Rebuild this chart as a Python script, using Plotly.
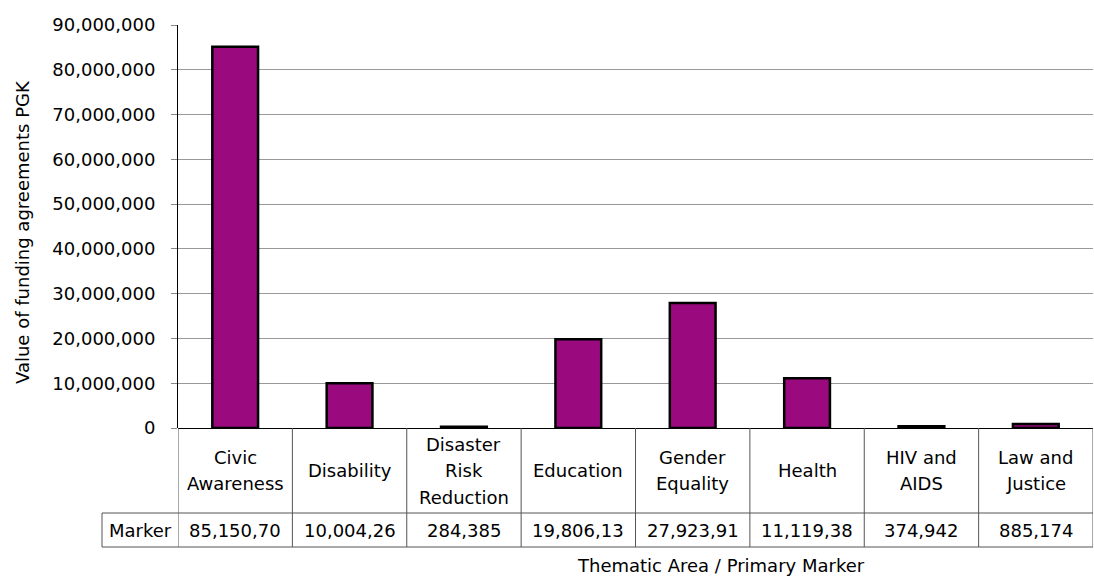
import plotly.graph_objects as go

categories = ["Civic<br>Awareness", "Disability", "Disaster<br>Risk<br>Reduction", "Education",
              "Gender<br>Equality", "Health", "HIV and<br>AIDS", "Law and<br>Justice"]
values = [85150700, 10004260, 284385, 19806130, 27923910, 11119380, 374942, 885174]
marker_labels = ["85,150,70", "10,004,26", "284,385", "19,806,13", "27,923,91",
                 "11,119,38", "374,942", "885,174"]
series_name = "Marker"
y_ticks = list(range(0, 90000001, 10000000))
y_title = "Value of funding agreements PGK"
x_title = "Thematic Area / Primary Marker"

W, H = 1094, 577
L, R, T, B = 178, 1, 25, 149
plot_h = H - T - B
plot_w = W - L - R

def py(px):  # pixel y -> paper y
    return (H - B - px) / plot_h

def pxp(px):  # pixel x -> paper x
    return (px - L) / plot_w

FONT = "DejaVu Sans"
TXT = dict(family=FONT, size=18, color="#000")
n = len(categories)
xs = list(range(n))

fig = go.Figure()
fig.add_trace(go.Bar(
    x=xs, y=values, width=0.4, name=series_name,
    marker=dict(color="#9A0A7E", line=dict(color="#000000", width=2.5)),
    showlegend=False,
))

shapes = []
line_style = dict(color="#555555", width=1)
row1_bottom = py(513)
row2_bottom = py(547)
shapes.append(dict(type="line", xref="paper", yref="paper", x0=pxp(102), x1=1, y0=row1_bottom, y1=row1_bottom, line=line_style))
shapes.append(dict(type="line", xref="paper", yref="paper", x0=pxp(102), x1=1, y0=row2_bottom, y1=row2_bottom, line=line_style))
for i in range(n + 1):
    shapes.append(dict(type="line", xref="x", yref="paper", x0=i - 0.5, x1=i - 0.5, y0=0, y1=row2_bottom, line=line_style))
shapes.append(dict(type="line", xref="paper", yref="paper", x0=pxp(102), x1=pxp(102), y0=row1_bottom, y1=row2_bottom, line=line_style))

annotations = []
LINE_GAP = 26.5
for i, c in enumerate(categories):
    lines = c.split("<br>")
    k = len(lines)
    for j, ln in enumerate(lines):
        ypx = 470.5 + (j - (k - 1) / 2) * LINE_GAP
        annotations.append(dict(x=i, y=py(ypx), xref="x", yref="paper", text=ln, showarrow=False,
                                font=TXT, xanchor="center", yanchor="middle"))
    annotations.append(dict(x=i, y=py(530), xref="x", yref="paper", text=marker_labels[i], showarrow=False,
                            font=TXT, xanchor="center", yanchor="middle"))
annotations.append(dict(x=pxp(140), y=py(530), xref="paper", yref="paper", text=series_name, showarrow=False,
                        font=TXT, xanchor="center", yanchor="middle"))
annotations.append(dict(x=pxp(721), y=py(565), xref="paper", yref="paper", text=x_title, showarrow=False,
                        font=TXT, xanchor="center", yanchor="middle"))
annotations.append(dict(x=pxp(22), y=py(232), xref="paper", yref="paper", text=y_title, showarrow=False,
                        textangle=-90, font=TXT, xanchor="center", yanchor="middle"))

fig.update_layout(
    width=W, height=H,
    margin=dict(l=L, r=R, t=T, b=B),
    plot_bgcolor="white", paper_bgcolor="white",
    font=TXT,
    shapes=shapes,
    annotations=annotations,
    xaxis=dict(range=[-0.5, n - 0.5], showticklabels=False, ticks="", showgrid=False,
               zeroline=False, showline=False, fixedrange=True),
    yaxis=dict(range=[0, 90000000], tickvals=y_ticks, tickformat=",d",
               showgrid=True, gridcolor="#999999", gridwidth=1,
               showline=True, linecolor="#000000", linewidth=1,
               ticks="outside", ticklen=6, tickcolor="#888888",
               zeroline=True, zerolinecolor="#000000", zerolinewidth=1,
               ticklabelstandoff=12, tickfont=TXT),
)

fig.write_html("out.html")
